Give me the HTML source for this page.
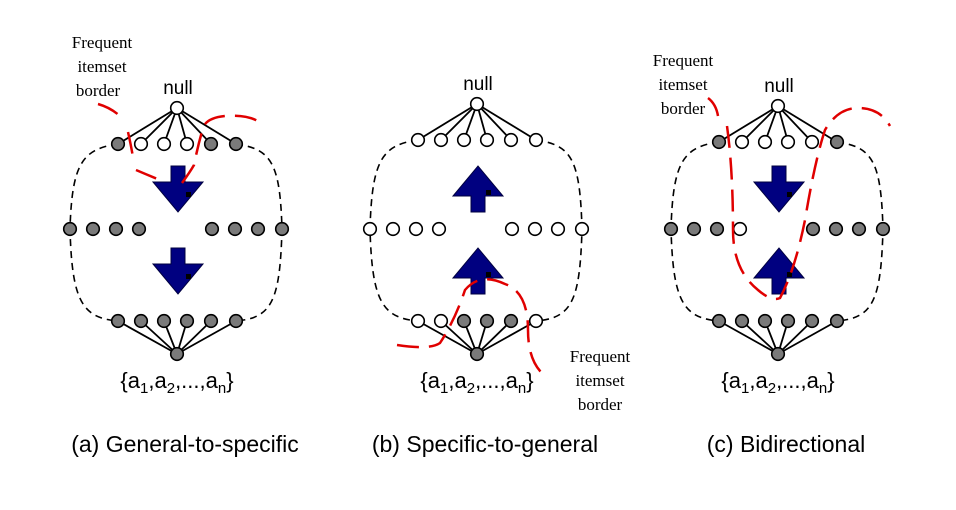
<!DOCTYPE html>
<html><head><meta charset="utf-8"><style>
html,body{margin:0;padding:0;background:#fff;}
svg{display:block;}
text{font-family:"Liberation Sans",Arial,sans-serif;}
.serif{font-family:"Liberation Serif","Times New Roman",serif;}
</style></head><body>
<svg id="d" width="956" height="510" viewBox="0 0 956 510" xmlns="http://www.w3.org/2000/svg">
<g id="panels"></g>
<g fill="none" stroke="#e00000" stroke-width="2.5" stroke-dasharray="22,10">
<path d="M98,104 Q112,108 122,118"/>
<path d="M128,132 Q132,150 133,158 M136,170 Q150,176 165,182 M182,183 Q190,172 194,165 Q198,145 203,128 Q206,118 225,116 Q250,114 262,124"/>
<path d="M397,345 Q430,350 440,343 Q455,320 465,290 Q480,272 505,284 Q528,292 528,330 Q528,365 548,378"/>
<path d="M708,98 Q716,104 718,116"/>
<path d="M727,126 Q733,170 733,230 Q733,270 758,290 Q772,302 780,298 Q795,270 805,220 Q815,160 825,130 Q838,108 858,108 Q880,108 890,126"/>
</g>
<g>
<text class="serif" x="102" y="48" font-size="17" text-anchor="middle">Frequent</text>
<text class="serif" x="102" y="72" font-size="17" text-anchor="middle">itemset</text>
<text class="serif" x="98" y="96" font-size="17" text-anchor="middle">border</text>
<text class="serif" x="600" y="362" font-size="17" text-anchor="middle">Frequent</text>
<text class="serif" x="600" y="386" font-size="17" text-anchor="middle">itemset</text>
<text class="serif" x="600" y="410" font-size="17" text-anchor="middle">border</text>
<text class="serif" x="683" y="66" font-size="17" text-anchor="middle">Frequent</text>
<text class="serif" x="683" y="90" font-size="17" text-anchor="middle">itemset</text>
<text class="serif" x="683" y="114" font-size="17" text-anchor="middle">border</text>
</g>
</svg>
<script>
// panel definitions
const centers=[177,477,778];
const titles=["(a) General-to-specific","(b) Specific-to-general","(c) Bidirectional"];
const topY=[144,140,142];
// node fills: 1 = grey(frequent), 0 = white
const topFill=[[1,0,0,0,1,1],[0,0,0,0,0,0],[1,0,0,0,0,1]];
const midFill=[[1,1,1,1,1,1,1,1],[0,0,0,0,0,0,0,0],[1,1,1,0,1,1,1,1]];
const botFill=[[1,1,1,1,1,1],[0,0,1,1,1,0],[1,1,1,1,1,1]];
const rootFill=[[0,1],[0,1],[0,1]];
// arrow directions: 1 = down, -1 = up
const arrows=[[1,1],[-1,-1],[1,-1]];
const NS="http://www.w3.org/2000/svg";
const g=document.getElementById('panels');
function el(t,a,p){const e=document.createElementNS(NS,t);for(const k in a)e.setAttribute(k,a[k]);(p||g).appendChild(e);return e;}
const GREY="#7a7a7a";
for(let p=0;p<3;p++){
  const cx=centers[p],ty=topY[p],my=229,by=321,ny=ty-36,ry=354;
  const pg=el('g',{});
  
  
  const topX=[-59,-36,-13,10,34,59].map(d=>cx+d);
  const midX=[-107,-84,-61,-38,35,58,81,105].map(d=>cx+d);
  const o=el('path',{d:`M${topX[0]},${ty} C${cx-95},${ty+5} ${midX[0]+2},${ty+20} ${midX[0]},${my} C${midX[0]+2},${by-20} ${cx-95},${by-3} ${topX[0]},${by} M${topX[5]},${ty} C${cx+95},${ty+5} ${midX[7]-2},${ty+20} ${midX[7]},${my} C${midX[7]-2},${by-20} ${cx+95},${by-3} ${topX[5]},${by}`,fill:'none',stroke:'#000','stroke-width':1.6,'stroke-dasharray':'7,5'},pg);
  
  
  topX.forEach(x=>{el('line',{x1:cx,y1:ny,x2:x,y2:ty,stroke:'#000','stroke-width':1.8},pg);el('line',{x1:cx,y1:ry,x2:x,y2:by,stroke:'#000','stroke-width':1.8},pg);});
  function node(x,y,f,name){const c=el('circle',{cx:x,cy:y,r:6.3,fill:f?GREY:'#fff',stroke:'#000','stroke-width':1.6},pg);}
  node(cx,ny,rootFill[p][0],'null-node');
  node(cx,ry,rootFill[p][1],'full-itemset-node');
  topX.forEach((x,i)=>node(x,ty,topFill[p][i],'level1-node'));
  midX.forEach((x,i)=>node(x,my,midFill[p][i],'mid-level-node'));
  topX.forEach((x,i)=>node(x,by,botFill[p][i],'bottom-level-node'));
  [[166,212],[248,294]].forEach((r,k)=>{
    const dir=arrows[p][k];const a=cx+1;
    let d;
    if(dir>0){d=`M${a-7},${r[0]} H${a+7} V${r[1]-30} H${a+25} L${a},${r[1]} L${a-25},${r[1]-30} H${a-7} Z`;}
    else{d=`M${a-7},${r[1]} H${a+7} V${r[0]+30} H${a+25} L${a},${r[0]} L${a-25},${r[0]+30} H${a-7} Z`;}
    const ar=el('path',{d,fill:'#000080',stroke:'#000040','stroke-width':1},pg);
    
    
    el('rect',{x:a+8,y:(dir>0?r[1]-20:r[1]-22),width:5,height:5,fill:'#000'},pg);
  });
  const nl=el('text',{x:cx+1,y:ny-14,'font-size':19,'text-anchor':'middle'},pg);nl.textContent='null';
  
  
  const sl=el('text',{x:cx,y:388,'font-size':22,'text-anchor':'middle'},pg);
  sl.innerHTML='{a<tspan font-size="15" dy="5">1</tspan><tspan dy="-5">,a</tspan><tspan font-size="15" dy="5">2</tspan><tspan dy="-5">,...,a</tspan><tspan font-size="15" dy="5">n</tspan><tspan dy="-5">}</tspan>';
  
  
  const tl=el('text',{x:cx+8,y:452,'font-size':23,'text-anchor':'middle'},pg);tl.textContent=titles[p];
  
  
}
</script>
</body></html>
